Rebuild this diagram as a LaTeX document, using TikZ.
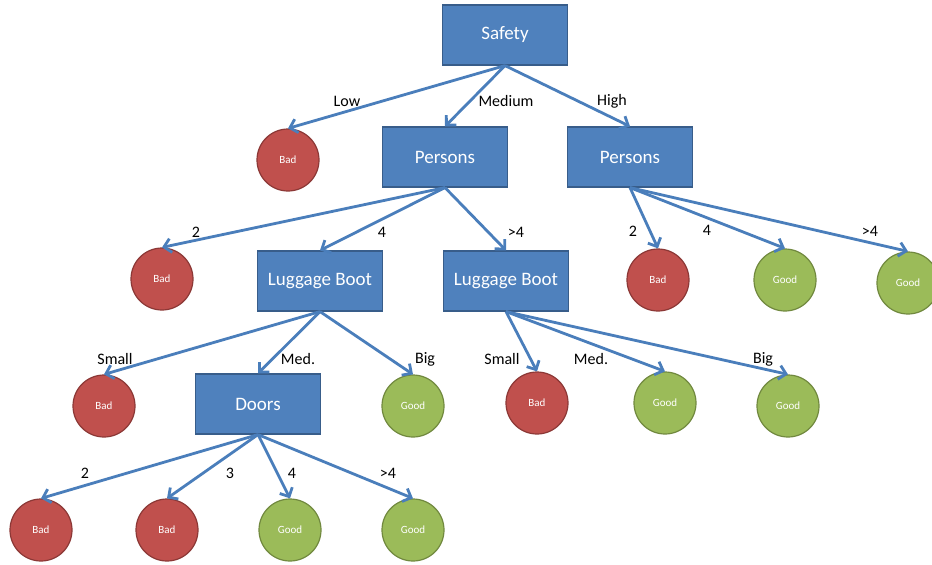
\documentclass[tikz,border=0pt]{standalone}
\usepackage{fontspec}
\setmainfont{Carlito}
\usetikzlibrary{arrows.meta}
\definecolor{boxfill}{HTML}{4F81BD}
\definecolor{boxline}{HTML}{385D8A}
\definecolor{badfill}{HTML}{C0504D}
\definecolor{badline}{HTML}{8C3836}
\definecolor{goodfill}{HTML}{9BBB59}
\definecolor{goodline}{HTML}{71893F}
\definecolor{edgecol}{HTML}{4A7EBB}
\tikzset{
  attr/.style={draw=boxline, fill=boxfill, line width=1.2pt, minimum width=125pt,
    minimum height=60pt, inner sep=0pt, text=white, font=\fontsize{19}{22}\selectfont},
  leaf/.style={circle, line width=1.2pt, minimum size=62pt, inner sep=0pt,
    text=white, font=\fontsize{11}{13}\selectfont},
  badleaf/.style={leaf, draw=badline, fill=badfill},
  goodleaf/.style={leaf, draw=goodline, fill=goodfill},
  lbl/.style={font=\fontsize{16}{19}\selectfont, inner sep=0pt},
  branch/.style={draw=edgecol, line width=2.8pt,
    -{Straight Barb[length=7pt,width=14pt,line width=2.8pt]}},
}
\begin{document}
\begin{tikzpicture}[x=1pt,y=-1pt]
\useasboundingbox (0,0) rectangle (932,565);

% decision nodes
\node[attr] (safety) at (505,35) {Safety};
\node[attr] (pm) at (445,157) {Persons};
\node[attr] (ph) at (630,157) {Persons};
\node[attr] (lbl) at (320,281) {Luggage Boot};
\node[attr] (lbr) at (506,281) {Luggage Boot};
\node[attr] (doors) at (258,404) {Doors};

% leaves
\node[badleaf] (badlow) at (288,160) {Bad};
\node[badleaf] (bad2) at (162,279) {Bad};
\node[badleaf] (badh2) at (658,280) {Bad};
\node[goodleaf] (goodh4) at (785,280) {Good};
\node[goodleaf] (goodh5) at (908,283) {Good};
\node[badleaf] (bads) at (104,406) {Bad};
\node[goodleaf] (goodb) at (413,406) {Good};
\node[badleaf] (badrs) at (537,403) {Bad};
\node[goodleaf] (goodrm) at (665,403) {Good};
\node[goodleaf] (goodrb) at (788,406) {Good};
\node[badleaf] (d2) at (41,530) {Bad};
\node[badleaf] (d3) at (167,530) {Bad};
\node[goodleaf] (d4) at (290,530) {Good};
\node[goodleaf] (d5) at (413,530) {Good};

% branches
\draw[branch] (safety.south) -- (badlow.north);
\draw[branch] (safety.south) -- (pm.north);
\draw[branch] (safety.south) -- (ph.north);
\draw[branch] (pm.south) -- (bad2.north);
\draw[branch] (pm.south) -- (lbl.north);
\draw[branch] (pm.south) -- (lbr.north);
\draw[branch] (ph.south) -- (badh2.north);
\draw[branch] (ph.south) -- (goodh4.north);
\draw[branch] (ph.south) -- (goodh5.north);
\draw[branch] (lbl.south) -- (bads.north);
\draw[branch] (lbl.south) -- (doors.north);
\draw[branch] (lbl.south) -- (goodb.north);
\draw[branch] (lbr.south) -- (badrs.north);
\draw[branch] (lbr.south) -- (goodrm.north);
\draw[branch] (lbr.south) -- (goodrb.north);
\draw[branch] (doors.south) -- (d2.north);
\draw[branch] (doors.south) -- (d3.north);
\draw[branch] (doors.south) -- (d4.north);
\draw[branch] (doors.south) -- (d5.north);

% branch labels
\node[lbl] (tlow) at (347,101) {Low};
\node[lbl] (tmed) at (506,101) {Medium};
\node[lbl] (thigh) at (612,101) {High};
\node[lbl] (tp2) at (196,232) {2};
\node[lbl] (tp4) at (382,232) {4};
\node[lbl] (tp5) at (516,232) {>4};
\node[lbl] (th2) at (633,231) {2};
\node[lbl] (th4) at (707,230) {4};
\node[lbl] (th5) at (870,231) {>4};
\node[lbl] (tls) at (115,359) {Small};
\node[lbl] (tlm) at (298,359) {Med.};
\node[lbl] (tlb) at (425,359) {Big};
\node[lbl] (trs) at (502,359) {Small};
\node[lbl] (trm) at (591,359) {Med.};
\node[lbl] (trb) at (763,359) {Big};
\node[lbl] (td2) at (85,473) {2};
\node[lbl] (td3) at (230,473) {3};
\node[lbl] (td4) at (292,473) {4};
\node[lbl] (td5) at (388,473) {>4};
\end{tikzpicture}
\end{document}
